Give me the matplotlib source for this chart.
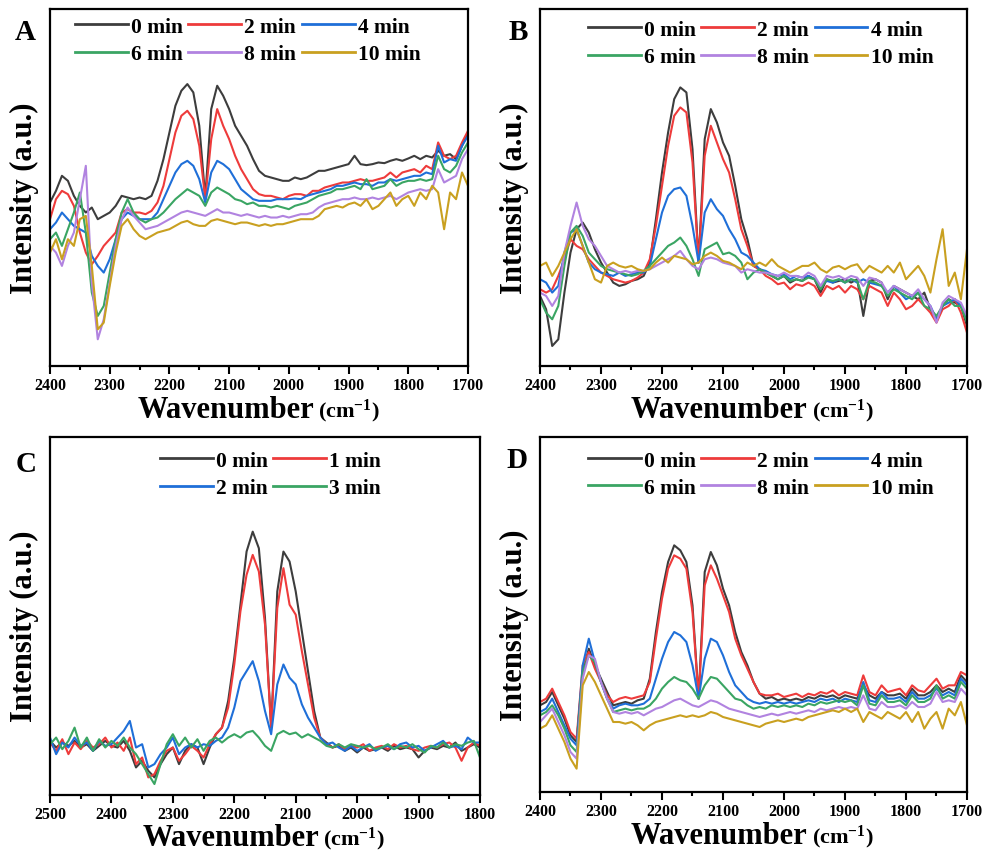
import numpy as np
import matplotlib
matplotlib.use('Agg')
import matplotlib.pyplot as plt
from matplotlib.ticker import MultipleLocator
from matplotlib.lines import Line2D

plt.rcParams['font.family'] = ['Liberation Serif', 'DejaVu Serif']
plt.rcParams['font.weight'] = 'bold'
plt.rcParams['mathtext.fontset'] = 'custom'
plt.rcParams['mathtext.rm'] = 'Liberation Serif:bold'
plt.rcParams['mathtext.it'] = 'Liberation Serif:bold'
plt.rcParams['mathtext.bf'] = 'Liberation Serif:bold'
plt.rcParams['mathtext.default'] = 'bf'

colors = ['#3d3d3d', '#ee3b3b', '#1f6fd8', '#3aa563', '#b183e0', '#c9a020']

# wavenumber grids (cm-1)
wn_ABD = np.arange(2400, 1699, -10)
wn_C = np.arange(2500, 1799, -10)

labels_6 = ['0 min', '2 min', '4 min', '6 min', '8 min', '10 min']
labels_C = ['0 min', '1 min', '2 min', '3 min']

# ---------------- Panel A ----------------
A_0 = [490,525,570,555,510,480,460,475,440,450, 460,480,510,505,500,505,500,510,555,620,
       700,780,825,845,820,720,505,770,840,810, 770,720,690,660,620,585,570,565,560,555,
       555,565,560,565,575,585,585,590,595,600, 605,630,605,602,605,610,608,615,620,615,
       622,630,620,630,625,645,630,635,620,660, 700]
A_2 = [440,500,525,515,480,400,340,305,330,360, 380,400,460,470,460,460,455,465,490,540,
       620,700,750,765,740,660,500,680,770,720, 680,630,590,560,530,515,510,510,505,500,
       510,515,515,510,525,525,535,540,545,550, 550,555,560,555,555,560,565,580,565,580,
       585,590,580,600,590,670,630,620,630,670, 705]
A_4 = [410,430,460,440,420,410,400,330,300,280, 320,380,440,460,450,440,440,440,460,500,
       540,580,605,615,600,560,490,580,615,605, 590,560,530,515,500,495,495,495,500,500,
       500,502,500,510,515,520,525,530,540,540, 545,550,545,545,540,550,550,560,555,560,
       565,570,570,580,575,660,610,620,615,660, 690]
A_6 = [380,400,360,410,460,520,400,220,150,180, 280,380,460,500,460,440,430,440,445,460,
       480,500,515,530,520,510,480,520,535,525, 515,500,495,485,490,480,480,475,480,475,
       470,480,485,490,500,510,515,520,530,530, 535,540,530,560,530,535,540,560,540,550,
       555,555,560,555,560,630,590,580,600,640, 670]
A_8 = [360,340,300,360,400,500,600,250,80,140, 250,360,440,475,450,430,410,415,420,430,
       440,450,460,465,460,455,450,460,470,460, 460,455,450,455,450,445,450,445,445,450,
       445,450,455,455,460,475,485,490,495,500, 500,505,500,500,505,500,505,510,500,510,
       520,525,530,525,530,590,550,560,570,620, 650]
A_10 = [340,380,320,380,360,440,450,300,110,130, 240,340,420,440,410,390,380,390,400,405,
        410,420,430,435,425,420,420,435,440,435, 430,425,430,430,425,420,425,420,425,425,
        430,435,440,440,440,450,470,475,480,475, 485,490,480,500,470,480,500,520,480,500,
        510,480,520,500,540,520,410,520,500,580, 540]

# ---------------- Panel B ----------------
B_0 = [210,170,60,80,220,340,410,430,400,350, 310,280,250,240,245,255,260,270,310,440,
       580,700,800,835,820,650,310,680,770,730, 670,630,540,440,380,300,290,280,270,260,
       270,250,260,255,270,260,220,260,250,255, 260,250,260,150,255,260,250,200,240,230,
       220,210,200,220,170,140,180,200,190,180, 120]
B_2 = [230,220,230,270,320,380,360,350,320,300, 280,270,260,255,250,255,265,280,320,420,
       540,660,750,775,760,610,310,630,720,670, 620,580,500,410,360,300,290,270,260,245,
       250,230,245,240,250,240,210,240,230,240, 220,240,230,200,240,230,220,180,220,200,
       170,180,200,180,160,130,170,180,200,160, 100]
B_4 = [260,250,220,240,340,400,410,360,310,290, 280,275,270,280,270,275,280,280,300,380,
       460,510,530,535,510,420,310,460,500,470, 450,410,380,340,330,310,290,285,275,270,
       275,260,270,265,270,260,240,255,250,260, 250,260,250,260,250,245,240,220,240,220,
       200,210,220,200,180,140,180,190,200,180, 140]
B_6 = [200,160,140,180,300,400,420,390,340,320, 300,290,285,280,275,270,275,285,300,320,
       340,360,370,385,360,320,270,350,360,370, 335,340,330,310,260,280,290,280,270,260,
       270,255,260,255,265,260,230,260,255,260, 250,260,255,200,255,250,240,210,230,220,
       210,200,220,180,170,150,180,200,180,180, 130]
B_8 = [220,210,180,210,340,420,490,420,380,360, 330,300,290,280,285,280,285,285,290,300,
       310,320,330,345,320,300,290,320,325,320, 310,305,300,280,290,285,280,280,275,270,
       280,270,270,265,280,270,240,270,265,270, 260,270,265,240,265,260,250,220,240,230,
       220,210,230,200,180,130,190,210,200,190, 150]
B_10 = [300,310,270,300,340,380,410,360,310,260, 250,300,310,300,295,300,290,285,290,310,
        325,310,330,325,320,305,310,330,340,330, 315,310,300,290,310,300,310,300,320,300,
        290,280,290,300,300,310,290,280,295,300, 290,300,305,280,300,290,280,300,280,310,
        260,280,300,270,220,320,410,240,280,200, 350]

# ---------------- Panel C ----------------
C_0 = [130,110,125,115,130,110,120,100,115,130, 115,110,130,100,50,70,40,20,60,90,
       110,60,100,120,110,60,110,150,170,250, 380,540,700,760,710,500,170,580,700,670,
       580,460,340,220,140,125,110,115,100,110, 95,110,100,105,110,100,115,105,110,105,
       80,100,110,105,115,110,125,100,110,120, 110]
C_1 = [125,100,135,90,125,105,130,110,120,140, 110,125,100,140,60,80,20,30,70,100,
       110,70,90,115,100,80,120,150,170,230, 360,520,630,690,640,480,170,530,650,540,
       510,400,300,200,140,120,110,120,105,115, 110,120,100,110,115,105,120,110,115,105,
       100,110,115,110,120,125,110,70,110,125, 115]
C_2 = [140,90,125,110,140,115,125,100,130,115, 120,140,160,190,110,120,50,60,90,110,
       140,90,110,120,110,120,115,130,140,170, 230,310,340,370,310,220,150,300,360,320,
       300,240,200,170,140,120,125,110,100,115, 100,110,120,100,110,115,105,120,125,110,
       115,100,110,120,130,110,115,105,140,125, 125]
C_3 = [120,140,105,130,170,110,140,100,135,110, 130,115,140,110,90,60,30,0,60,120,
       150,115,140,110,135,100,130,140,125,140, 150,140,155,160,140,115,100,150,160,150,
       155,140,150,140,130,115,110,120,110,120, 115,110,115,105,110,120,105,115,110,120,
       105,95,115,110,125,110,120,115,125,130, 80]

# ---------------- Panel D ----------------
D_0 = [240,250,280,240,200,150,130,340,410,360, 320,280,240,245,250,245,255,260,320,460,
       580,670,720,705,670,540,260,640,700,660, 590,540,460,400,360,310,275,260,265,255,
       260,255,260,255,265,260,270,265,270,260, 270,265,260,300,270,260,280,270,270,275,
       260,290,270,270,280,300,280,290,280,330, 310]
D_2 = [250,260,290,250,210,160,140,360,400,350, 310,270,250,260,265,260,265,270,310,440,
       560,650,690,680,650,520,260,600,660,620, 570,520,440,390,350,310,275,270,270,275,
       265,270,275,265,275,270,280,275,285,270, 280,275,270,330,280,270,300,280,285,290,
       270,300,285,280,300,320,290,300,300,340, 330]
D_4 = [220,230,260,220,180,140,120,360,440,370, 310,260,230,240,245,240,240,245,260,320,
       380,430,460,450,430,360,260,380,440,430, 390,340,300,280,260,250,245,250,245,250,
       245,250,245,250,255,250,260,255,260,250, 260,255,250,310,255,250,280,260,260,265,
       250,280,260,260,270,290,270,280,270,320, 300]
D_6 = [210,220,240,210,170,120,100,340,390,370, 310,260,220,225,230,225,230,230,240,260,
       290,310,325,315,310,290,260,300,325,320, 300,280,260,255,240,230,235,230,240,235,
       240,235,240,235,245,240,250,245,250,255, 250,255,240,300,245,240,270,250,250,255,
       240,270,250,250,260,300,260,270,260,310, 290]
D_8 = [190,210,230,190,150,100,80,320,390,380, 310,260,220,215,220,215,220,210,220,230,
       235,245,255,260,250,240,235,245,255,250, 240,230,225,220,215,210,205,210,215,210,
       215,220,215,220,225,220,230,225,230,235, 230,235,230,270,230,225,250,235,235,240,
       230,250,235,235,245,280,250,255,250,290, 270]
D_10 = [170,180,210,170,130,80,50,300,340,310, 270,230,190,190,185,190,180,165,180,190,
        195,200,205,210,205,210,205,210,220,215, 205,200,195,190,185,180,175,185,190,195,
        190,195,200,195,205,210,215,220,225,220, 230,220,230,190,220,210,200,220,210,200,
        220,190,220,170,200,220,170,230,210,250, 180]

W, H = 984, 854
fig = plt.figure(figsize=(W / 100, H / 100), dpi=100)


def px_axes(l, t, r, b):
    return fig.add_axes([l / W, 1 - b / H, (r - l) / W, (b - t) / H])


def panel(ax, wn, series, labels, xlim, ylim, letter, letter_xy, leg_x, leg_y, ncol, order,
          xlab_off):
    for s, c, lab in zip(series, colors, labels):
        ax.plot(wn, s, color=c, lw=1.5, label=lab)
    ax.set_xlim(*xlim)
    ax.set_ylim(*ylim)
    ax.set_yticks([])
    ax.xaxis.set_major_locator(MultipleLocator(100))
    ax.xaxis.set_minor_locator(MultipleLocator(50))
    ax.tick_params(axis='x', which='major', direction='out', length=5.5, width=1.5,
                   labelsize=11.5, pad=2.5)
    ax.tick_params(axis='x', which='minor', direction='out', length=3, width=1.5)
    for lab in ax.get_xticklabels():
        lab.set_fontweight('bold')
    for sp in ax.spines.values():
        sp.set_linewidth(1.6)
    hs = [Line2D([], [], color=colors[i], lw=2) for i in order]
    ls = [labels[i] for i in order]
    ax.legend(hs, ls, ncol=ncol, loc='upper left', bbox_to_anchor=(leg_x, leg_y),
              frameon=False, prop={'family': 'Liberation Serif', 'weight': 'bold', 'size': 15.5},
              handlelength=2.45, handletextpad=0.15, columnspacing=0.25, labelspacing=0.34,
              borderpad=0, borderaxespad=0)
    t1 = ax.annotate('Wavenumber', xy=(0.42, 0), xycoords='axes fraction',
                     xytext=(0, xlab_off), textcoords='offset points',
                     ha='center', va='baseline', fontsize=22, fontweight='bold')
    ax.annotate(r'(cm$^{-1}$)', xy=(1, 0), xycoords=t1, xytext=(3, 0),
                textcoords='offset points', ha='left', va='bottom',
                fontsize=16, fontweight='bold')
    ax.text(-0.06, 0.473, 'Intensity (a.u.)', transform=ax.transAxes, rotation=90,
            ha='center', va='center', fontsize=22, fontweight='bold')
    fig.text(letter_xy[0] / W, 1 - letter_xy[1] / H, letter, ha='center', va='center',
             fontsize=21, fontweight='bold')


axA = px_axes(50, 10, 468, 367)
panel(axA, wn_ABD, [A_0, A_2, A_4, A_6, A_8, A_10], labels_6, (2400, 1700), (0, 1070),
      'A', (25, 32), 0.060, 0.978, 3, [0, 3, 1, 4, 2, 5], -37)

axB = px_axes(540, 10, 967, 367)
panel(axB, wn_ABD, [B_0, B_2, B_4, B_6, B_8, B_10], labels_6, (2400, 1700), (0, 1070),
      'B', (518, 32), 0.112, 0.970, 3, [0, 3, 1, 4, 2, 5], -37)

axC = px_axes(50, 438, 480, 796)
panel(axC, wn_C, [C_0, C_1, C_2, C_3], labels_C, (2500, 1800), (-33, 1045),
      'C', (26, 464), 0.256, 0.962, 2, [0, 2, 1, 3], -36)

axD = px_axes(540, 438, 967, 793)
panel(axD, wn_ABD, [D_0, D_2, D_4, D_6, D_8, D_10], labels_6, (2400, 1700), (-20, 1045),
      'D', (517, 460), 0.112, 0.962, 3, [0, 3, 1, 4, 2, 5], -37)

fig.savefig('out.png', dpi=100)
